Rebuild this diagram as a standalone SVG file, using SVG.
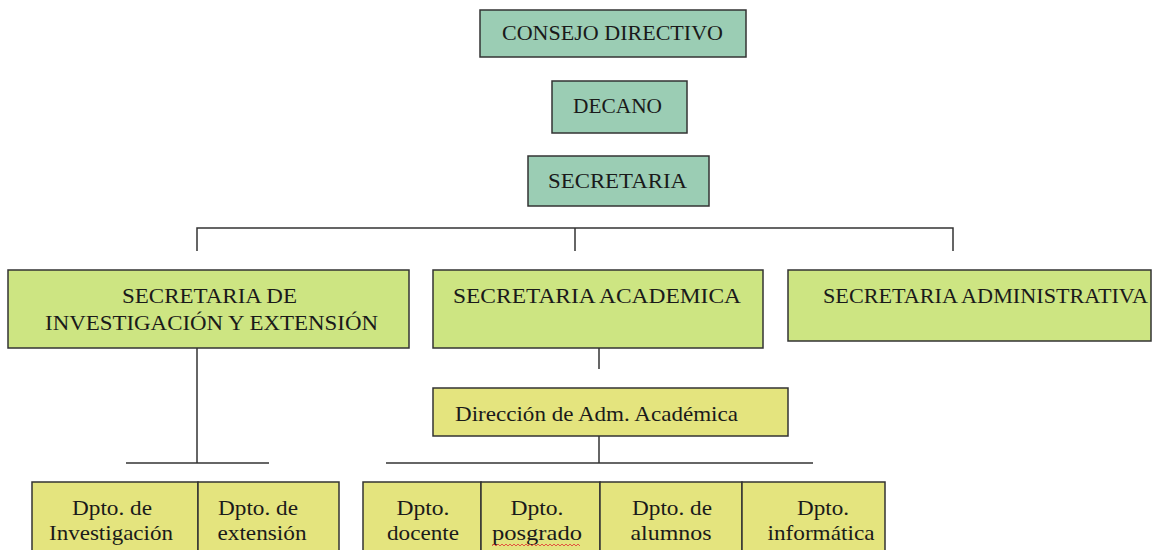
<svg xmlns="http://www.w3.org/2000/svg" width="1153" height="550" viewBox="0 0 1153 550">
<style>
  text { font-family: "Liberation Serif", "Times New Roman", serif; fill: #1a1a1a; text-anchor: middle; }
  .cap { font-size: 22px; }
  .low { font-size: 21px; }
  .top { fill: #9bcdb4; stroke: #333; stroke-width: 1.5; }
  .sec { fill: #cde582; stroke: #333; stroke-width: 1.5; }
  .dep { fill: #e4e47e; stroke: #333; stroke-width: 1.5; }
  .con { stroke: #333; stroke-width: 1.5; fill: none; }
</style>
<rect width="1153" height="550" fill="#ffffff"/>
<g id="connectors">
  <polyline class="con" points="197,251 197,228 953,228 953,251"/>
  <line class="con" x1="575" y1="228" x2="575" y2="251"/>
  <line class="con" x1="197" y1="348" x2="197" y2="463"/>
  <line class="con" x1="126" y1="463" x2="269" y2="463"/>
  <line class="con" x1="599" y1="348" x2="599" y2="369"/>
  <line class="con" x1="599" y1="436" x2="599" y2="463"/>
  <line class="con" x1="386" y1="463" x2="813" y2="463"/>
</g>
<g id="consejo">
  <rect class="top" x="480" y="10" width="266" height="47"/>
  <text class="cap" x="612.5" y="40" textLength="221" lengthAdjust="spacingAndGlyphs">CONSEJO DIRECTIVO</text>
</g>
<g id="decano">
  <rect class="top" x="552" y="81" width="135" height="52"/>
  <text class="cap" x="617.5" y="113" textLength="89" lengthAdjust="spacingAndGlyphs">DECANO</text>
</g>
<g id="secretaria">
  <rect class="top" x="528" y="156" width="181" height="50"/>
  <text class="cap" x="617.5" y="188" textLength="139" lengthAdjust="spacingAndGlyphs">SECRETARIA</text>
</g>
<g id="sec-investigacion">
  <rect class="sec" x="8" y="270" width="401" height="78"/>
  <text class="cap" x="209.5" y="303" textLength="175" lengthAdjust="spacingAndGlyphs">SECRETARIA DE</text>
  <text class="cap" x="211.5" y="330" textLength="333" lengthAdjust="spacingAndGlyphs">INVESTIGACIÓN Y EXTENSIÓN</text>
</g>
<g id="sec-academica">
  <rect class="sec" x="433" y="270" width="330" height="78"/>
  <text class="cap" x="597" y="303" textLength="288" lengthAdjust="spacingAndGlyphs">SECRETARIA ACADEMICA</text>
</g>
<g id="sec-administrativa">
  <rect class="sec" x="788" y="270" width="363" height="71"/>
  <text class="cap" x="985.5" y="303" textLength="325" lengthAdjust="spacingAndGlyphs">SECRETARIA ADMINISTRATIVA</text>
</g>
<g id="direccion">
  <rect class="dep" x="433" y="388" width="355" height="48"/>
  <text class="low" x="596.5" y="421" textLength="283" lengthAdjust="spacingAndGlyphs">Dirección de Adm. Académica</text>
</g>
<g id="dpto-investigacion">
  <rect class="dep" x="32" y="482" width="166" height="80"/>
  <text class="low" x="112" y="515" textLength="80" lengthAdjust="spacingAndGlyphs">Dpto. de</text>
  <text class="low" x="111" y="540" textLength="124" lengthAdjust="spacingAndGlyphs">Investigación</text>
</g>
<g id="dpto-extension">
  <rect class="dep" x="198" y="482" width="141" height="80"/>
  <text class="low" x="258" y="515" textLength="80" lengthAdjust="spacingAndGlyphs">Dpto. de</text>
  <text class="low" x="262" y="540" textLength="89" lengthAdjust="spacingAndGlyphs">extensión</text>
</g>
<g id="dpto-docente">
  <rect class="dep" x="363" y="482" width="118" height="80"/>
  <text class="low" x="423" y="515" textLength="53" lengthAdjust="spacingAndGlyphs">Dpto.</text>
  <text class="low" x="423" y="540" textLength="72" lengthAdjust="spacingAndGlyphs">docente</text>
</g>
<g id="dpto-posgrado">
  <rect class="dep" x="481" y="482" width="119" height="80"/>
  <text class="low" x="537" y="515" textLength="53" lengthAdjust="spacingAndGlyphs">Dpto.</text>
  <text class="low" x="537" y="540" textLength="90" lengthAdjust="spacingAndGlyphs">posgrado</text>
  <path d="M492,546 l2,-2 l2,2 l2,-2 l2,2 l2,-2 l2,2 l2,-2 l2,2 l2,-2 l2,2 l2,-2 l2,2 l2,-2 l2,2 l2,-2 l2,2 l2,-2 l2,2 l2,-2 l2,2 l2,-2 l2,2 l2,-2 l2,2 l2,-2 l2,2 l2,-2 l2,2 l2,-2 l2,2 l2,-2 l2,2 l2,-2 l2,2 l2,-2 l2,2 l2,-2 l2,2 l2,-2 l2,2 l2,-2 l2,2 l2,-2 l2,2" fill="none" stroke="#e03030" stroke-width="0.8"/>
</g>
<g id="dpto-alumnos">
  <rect class="dep" x="600" y="482" width="142" height="80"/>
  <text class="low" x="672" y="515" textLength="80" lengthAdjust="spacingAndGlyphs">Dpto. de</text>
  <text class="low" x="671" y="540" textLength="81" lengthAdjust="spacingAndGlyphs">alumnos</text>
</g>
<g id="dpto-informatica">
  <rect class="dep" x="742" y="482" width="143" height="80"/>
  <text class="low" x="823" y="515" textLength="52" lengthAdjust="spacingAndGlyphs">Dpto.</text>
  <text class="low" x="821" y="540" textLength="107" lengthAdjust="spacingAndGlyphs">informática</text>
</g>
</svg>
